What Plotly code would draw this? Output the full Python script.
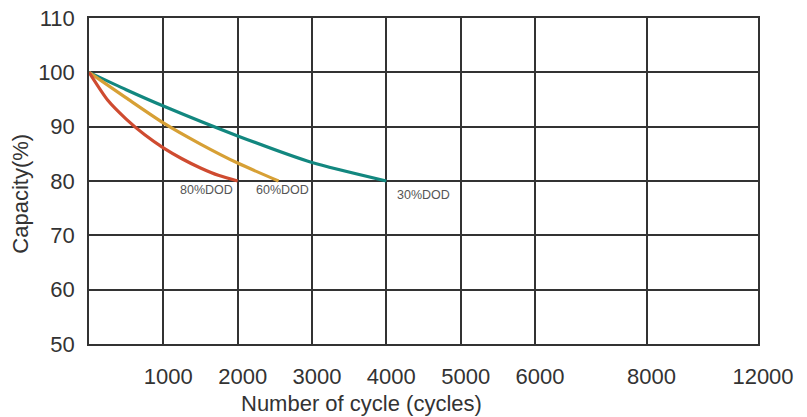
import numpy as np
import plotly.graph_objects as go

# --- data ---
tick_cycles = [0, 1000, 2000, 3000, 4000, 5000, 6000, 8000, 12000]
tick_labels = ["", "1000", "2000", "3000", "4000", "5000", "6000", "8000", "12000"]

dod80_cycles = [0, 250, 500, 750, 1000, 1250, 1500, 1750, 2000]
dod80_capacity = [100, 94.9, 91.4, 88.5, 86.1, 84.1, 82.4, 81.0, 80]

dod60_cycles = [0, 500, 1000, 1500, 2000, 2550]
dod60_capacity = [100, 95.3, 90.7, 86.8, 83.3, 80]

dod30_cycles = [0, 500, 1000, 2000, 3000, 4000]
dod30_capacity = [100, 96.8, 93.8, 88.3, 83.4, 80]

label_names = ["80%DOD", "60%DOD", "30%DOD"]
label_cycles = [1585, 2600, 4500]
label_capacity = [78.35, 78.35, 77.4]

# non-linear (piecewise) x axis: position of each tick along the axis
tick_pos = [0, 1, 2, 3, 4, 5, 6, 7.5, 9]


def xpos(c):
    return np.interp(c, tick_cycles, tick_pos)


fig = go.Figure()
series = [
    (dod30_cycles, dod30_capacity, "#12877f", "30%DOD"),
    (dod60_cycles, dod60_capacity, "#d7a035", "60%DOD"),
    (dod80_cycles, dod80_capacity, "#cf4b30", "80%DOD"),
]
for cx, cy, col, name in series:
    fig.add_trace(go.Scatter(
        x=xpos(cx), y=cy, mode="lines", name=name,
        line=dict(color=col, width=3.2, shape="spline", smoothing=0.6),
        showlegend=False, hoverinfo="skip",
    ))

for name, lc, lcap in zip(label_names, label_cycles, label_capacity):
    fig.add_annotation(x=float(xpos(lc)), y=lcap, text=name, showarrow=False,
                       font=dict(family="Liberation Sans, Arial", size=12.5, color="#555555"),
                       xanchor="center", yanchor="middle")

font_main = dict(family="Liberation Sans, Arial", size=22, color="#333333")

fig.add_annotation(xref="paper", yref="paper", x=0.408, y=-0.181,
                   text="Number of cycle (cycles)", showarrow=False,
                   font=font_main, xanchor="center", yanchor="middle")
fig.add_annotation(xref="paper", yref="paper", x=-0.1025, y=0.4625,
                   text="Capacity(%)", showarrow=False, textangle=-90,
                   font=font_main, xanchor="center", yanchor="middle")

fig.update_xaxes(
    range=[0, 9], tickmode="array", tickvals=tick_pos, ticktext=tick_labels,
    showgrid=True, gridcolor="#333333", gridwidth=1.5,
    showline=True, linecolor="#333333", linewidth=1.5, mirror=True,
    zeroline=False, ticks="", tickfont=font_main, automargin=False,
    ticklabelstandoff=12, ticklabelshift=5, ticklabeloverflow="allow",
)
fig.update_yaxes(
    range=[50, 110], tickmode="array", tickvals=list(range(50, 111, 10)),
    showgrid=True, gridcolor="#333333", gridwidth=1.5,
    showline=True, linecolor="#333333", linewidth=1.5, mirror=True,
    zeroline=False, ticks="", tickfont=font_main, ticklabelstandoff=8,
    automargin=False, ticklabeloverflow="allow",
)

fig.update_layout(
    width=807, height=417,
    margin=dict(l=80.5, r=56.5, t=9.5, b=81, autoexpand=False),
    paper_bgcolor="white", plot_bgcolor="white",
    showlegend=False,
)

fig.write_html("out.html")
